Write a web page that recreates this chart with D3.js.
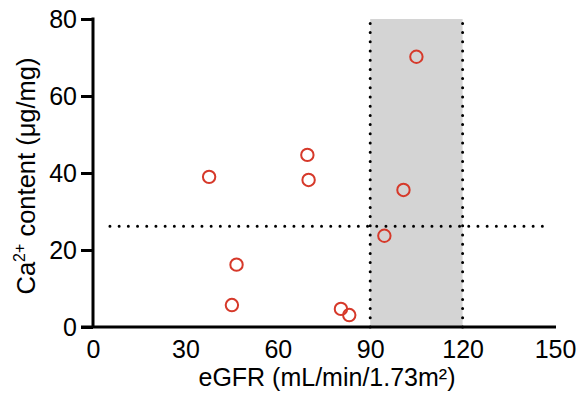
<!DOCTYPE html>
<html><head><meta charset="utf-8">
<script src="https://cdn.jsdelivr.net/npm/d3@7"></script>
<style>
html,body{margin:0;padding:0;background:#fff;}
svg{display:block;font-family:"Liberation Sans",Arial,Helvetica,sans-serif;}
</style></head>
<body>
<svg id="chart" width="579" height="394"></svg>
<script>
// Data
const egfr = [37.7, 46.6, 45.1, 69.6, 70.0, 80.5, 83.2, 94.6, 100.8, 105.0];
const calcium = [39.0, 16.2, 5.7, 44.7, 38.2, 4.7, 3.1, 23.7, 35.6, 70.2];
const xTicks = [0, 30, 60, 90, 120, 150];
const yTicks = [0, 20, 40, 60, 80];
const shadedRange = [90, 120];
const thresholdY = 26.2;
const thresholdXExtent = [5.5, 147.5];
const xLabel = "eGFR (mL/min/1.73m²)";
const yLabelParts = ["Ca", "2+", " content (μg/mg)"];

const svg = d3.select("#chart");
const x = d3.scaleLinear().domain([0, 150]).range([93, 555]);
const y = d3.scaleLinear().domain([0, 80]).range([327, 19]);

// shaded band
svg.append("rect")
  .attr("x", x(shadedRange[0])).attr("y", y(80))
  .attr("width", x(shadedRange[1]) - x(shadedRange[0]))
  .attr("height", y(0) - y(80))
  .attr("fill", "#d4d4d4");

// dotted lines
const dot = {w: 3, dash: "0 9.2"};
shadedRange.forEach(v => {
  svg.append("line")
    .attr("x1", x(v)).attr("x2", x(v))
    .attr("y1", y(0)).attr("y2", y(80))
    .attr("stroke", "#000").attr("stroke-width", dot.w)
    .attr("stroke-linecap", "round").attr("stroke-dasharray", dot.dash);
});
svg.append("line")
  .attr("x1", x(thresholdXExtent[0])).attr("x2", x(thresholdXExtent[1]))
  .attr("y1", y(thresholdY)).attr("y2", y(thresholdY))
  .attr("stroke", "#000").attr("stroke-width", dot.w)
  .attr("stroke-linecap", "round").attr("stroke-dasharray", dot.dash);

// axes
const yAxis = d3.axisLeft(y).tickValues(yTicks).tickSize(12).tickPadding(4).tickFormat(d3.format("d"));
const gy = svg.append("g").attr("transform", `translate(${x(0)},0)`).call(yAxis);
gy.select(".domain").attr("stroke-width", 3).attr("d", `M0,${y(80)-1.5}V${y(0)}`);
gy.selectAll(".tick line").attr("stroke-width", 3);
gy.selectAll(".tick text").attr("font-size", 25).attr("fill", "#000");

const xAxis = d3.axisBottom(x).tickValues(xTicks).tickSize(0).tickPadding(13).tickFormat(d3.format("d"));
const gx = svg.append("g").attr("transform", `translate(0,${y(0)})`).call(xAxis);
gx.select(".domain").attr("stroke-width", 3).attr("d", `M${x(0)-12},0H${x(150)+1}`);
gx.selectAll(".tick text").attr("font-size", 25).attr("fill", "#000");

// points
svg.append("g").selectAll("circle").data(egfr).join("circle")
  .attr("cx", d => x(d)).attr("cy", (d, i) => y(calcium[i]))
  .attr("r", 6.2).attr("fill", "none")
  .attr("stroke", "#d6392a").attr("stroke-width", 2);

// labels
svg.append("text")
  .attr("x", 327).attr("y", 386)
  .attr("text-anchor", "middle").attr("font-size", 25).attr("fill", "#000")
  .text(xLabel);

const yl = svg.append("text")
  .attr("transform", `translate(35,${176}) rotate(-90)`)
  .attr("text-anchor", "middle").attr("font-size", 25.5).attr("fill", "#000");
yl.append("tspan").text(yLabelParts[0]);
yl.append("tspan").attr("font-size", 16).attr("dy", -10).text(yLabelParts[1]);
yl.append("tspan").attr("dy", 10).text(yLabelParts[2]);
</script>
</body></html>
